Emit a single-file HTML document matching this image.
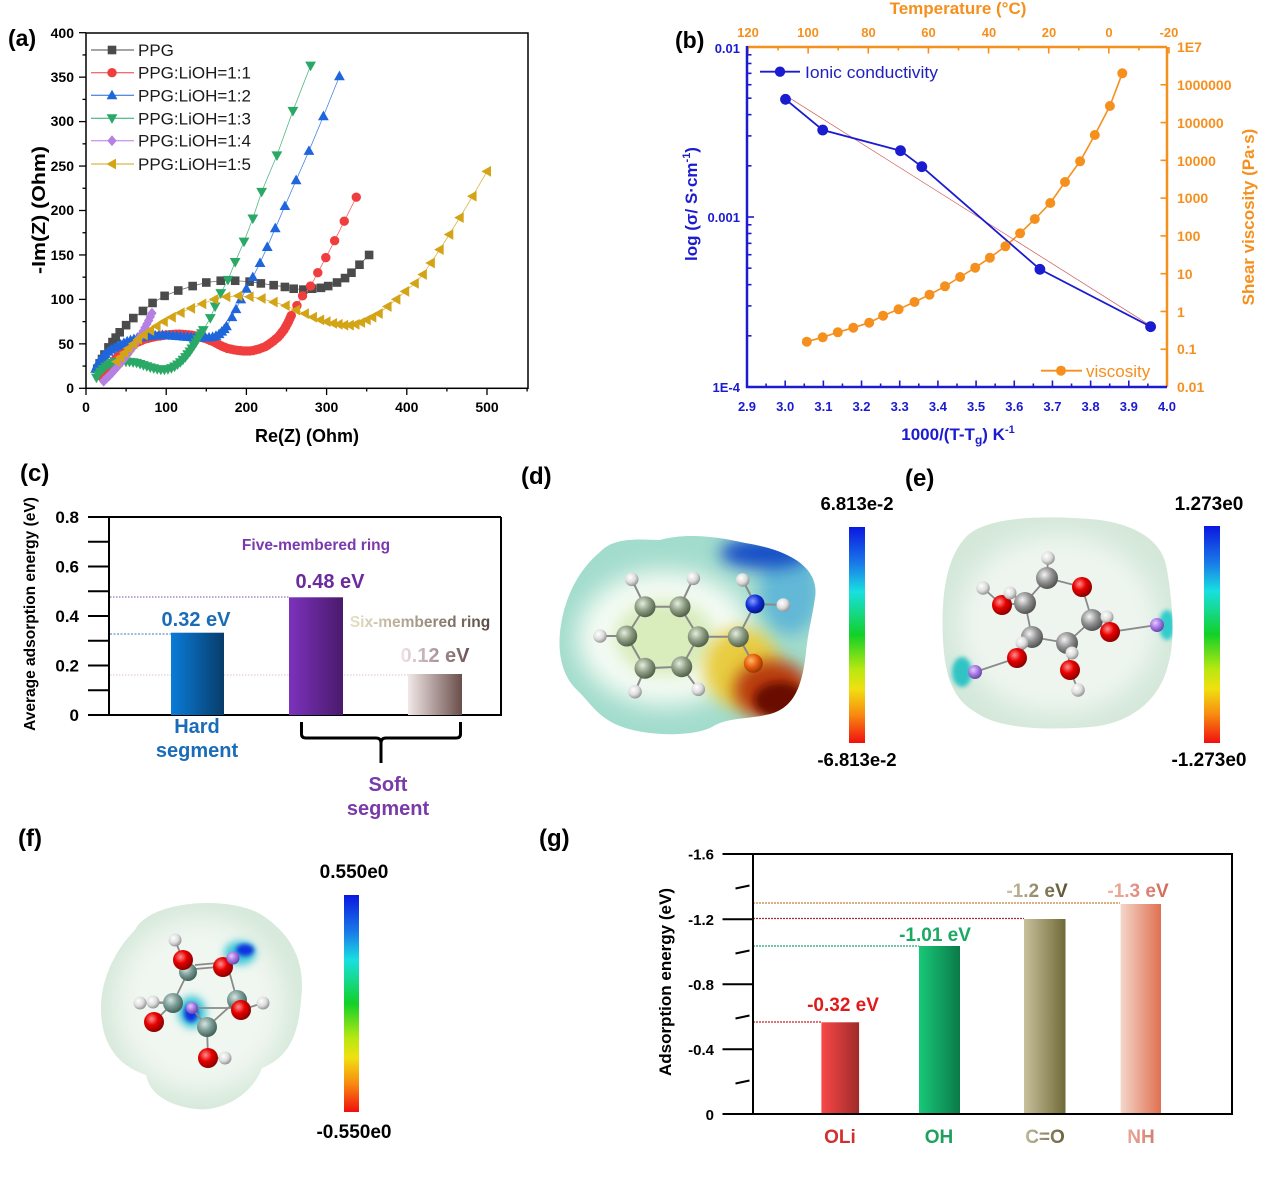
<!DOCTYPE html>
<html><head><meta charset="utf-8">
<style>
html,body{margin:0;padding:0;background:#fff;}
svg{display:block;font-family:"Liberation Sans",Arial,sans-serif;}
</style></head><body>
<svg id="s" width="1268" height="1181" viewBox="0 0 1268 1181" xmlns="http://www.w3.org/2000/svg">
<defs>
<linearGradient id="cbar" x1="0" y1="0" x2="0" y2="1">
<stop offset="0" stop-color="#0a18e0"/><stop offset="0.17" stop-color="#1a7ae8"/><stop offset="0.3" stop-color="#18e0e0"/><stop offset="0.5" stop-color="#12d028"/><stop offset="0.66" stop-color="#b8e810"/><stop offset="0.75" stop-color="#f0e010"/><stop offset="0.87" stop-color="#f88a10"/><stop offset="1" stop-color="#f01010"/>
</linearGradient>
<linearGradient id="gBlue" x1="0" x2="1"><stop offset="0" stop-color="#0a7cd8"/><stop offset="1" stop-color="#083c6a"/></linearGradient>
<linearGradient id="gPur" x1="0" x2="1"><stop offset="0" stop-color="#7c32bc"/><stop offset="1" stop-color="#4a1a6c"/></linearGradient>
<linearGradient id="gBrn" x1="0" x2="1"><stop offset="0" stop-color="#f2e8e8"/><stop offset="1" stop-color="#6a4e4a"/></linearGradient>
<linearGradient id="tSix" x1="0" x2="1"><stop offset="0" stop-color="#e8e2c4"/><stop offset="1" stop-color="#5a4a42"/></linearGradient>
<linearGradient id="t012" x1="0" x2="1"><stop offset="0" stop-color="#f2e4ea"/><stop offset="1" stop-color="#6a5052"/></linearGradient>
<linearGradient id="gRed" x1="0" x2="1"><stop offset="0" stop-color="#f84848"/><stop offset="1" stop-color="#a02a2a"/></linearGradient>
<linearGradient id="gGrn" x1="0" x2="1"><stop offset="0" stop-color="#18c878"/><stop offset="1" stop-color="#0a7a48"/></linearGradient>
<linearGradient id="gOlv" x1="0" x2="1"><stop offset="0" stop-color="#c8c09c"/><stop offset="1" stop-color="#706a38"/></linearGradient>
<linearGradient id="gSal" x1="0" x2="1"><stop offset="0" stop-color="#f4d6ca"/><stop offset="1" stop-color="#e07050"/></linearGradient>
<linearGradient id="t12" x1="0" x2="1"><stop offset="0" stop-color="#ccc4a2"/><stop offset="1" stop-color="#5a5030"/></linearGradient>
<linearGradient id="t13" x1="0" x2="1"><stop offset="0" stop-color="#f0b4a4"/><stop offset="1" stop-color="#d06858"/></linearGradient>
<linearGradient id="tCO" x1="0" x2="1"><stop offset="0" stop-color="#c0b898"/><stop offset="1" stop-color="#68603a"/></linearGradient>
<linearGradient id="tNH" x1="0" x2="1"><stop offset="0" stop-color="#eaa898"/><stop offset="1" stop-color="#d08070"/></linearGradient>
<radialGradient id="aC" cx="0.38" cy="0.35" r="0.7"><stop offset="0" stop-color="#e6eede"/><stop offset="0.5" stop-color="#8e9e84"/><stop offset="1" stop-color="#4a5842"/></radialGradient>
<radialGradient id="aH" cx="0.38" cy="0.35" r="0.7"><stop offset="0" stop-color="#ffffff"/><stop offset="0.55" stop-color="#dcdcdc"/><stop offset="1" stop-color="#8a8a8a"/></radialGradient>
<radialGradient id="aN" cx="0.38" cy="0.35" r="0.7"><stop offset="0" stop-color="#8c9cff"/><stop offset="0.5" stop-color="#1232d8"/><stop offset="1" stop-color="#021078"/></radialGradient>
<radialGradient id="aO" cx="0.38" cy="0.35" r="0.7"><stop offset="0" stop-color="#ffb868"/><stop offset="0.5" stop-color="#e86010"/><stop offset="1" stop-color="#903000"/></radialGradient>
<radialGradient id="aR" cx="0.38" cy="0.35" r="0.7"><stop offset="0" stop-color="#ff9090"/><stop offset="0.45" stop-color="#e80000"/><stop offset="1" stop-color="#800000"/></radialGradient>
<radialGradient id="aG" cx="0.38" cy="0.35" r="0.7"><stop offset="0" stop-color="#f4f4f4"/><stop offset="0.5" stop-color="#929292"/><stop offset="1" stop-color="#4a4a4a"/></radialGradient>
<radialGradient id="aT" cx="0.38" cy="0.35" r="0.7"><stop offset="0" stop-color="#d6e6e2"/><stop offset="0.5" stop-color="#7a9a94"/><stop offset="1" stop-color="#3a5a54"/></radialGradient>
<radialGradient id="aL" cx="0.38" cy="0.35" r="0.7"><stop offset="0" stop-color="#e6ccff"/><stop offset="0.5" stop-color="#a678e2"/><stop offset="1" stop-color="#6040a0"/></radialGradient>
<filter id="b4" x="-50%" y="-50%" width="200%" height="200%"><feGaussianBlur stdDeviation="4"/></filter>
<filter id="b8" x="-50%" y="-50%" width="200%" height="200%"><feGaussianBlur stdDeviation="8"/></filter>
<filter id="b12" x="-50%" y="-50%" width="200%" height="200%"><feGaussianBlur stdDeviation="12"/></filter>
<filter id="b2" x="-50%" y="-50%" width="200%" height="200%"><feGaussianBlur stdDeviation="2"/></filter>
<clipPath id="clipD"><path d="M600,552 C615,536 640,540 660,540 C685,533 715,536 745,543 C790,550 820,568 815,598 C812,618 808,632 806,652 C802,690 792,708 770,714 C745,720 728,717 712,727 C690,738 640,736 615,724 C595,714 590,702 575,688 C558,670 558,642 561,625 C565,598 578,570 600,552 Z"/></clipPath>
<clipPath id="clipE"><path d="M965,538 C985,515 1050,516 1090,519 C1130,522 1163,538 1167,570 C1172,598 1176,640 1168,665 C1160,700 1130,724 1090,727 C1050,730 1000,730 975,712 C955,700 945,680 943,640 C941,600 945,560 965,538 Z"/></clipPath>
<clipPath id="clipF"><path d="M135,930 C150,900 230,895 262,915 C292,935 306,962 301,1000 C298,1040 286,1058 262,1068 C252,1095 222,1112 196,1109 C170,1106 150,1095 146,1075 C115,1065 100,1040 101,1005 C102,978 115,950 135,930 Z"/></clipPath>
</defs>

<!-- ================= (a) ================= -->
<text x="8" y="46" font-size="23" font-weight="bold">(a)</text>
<rect x="86" y="33" width="442" height="355.3" fill="none" stroke="#000" stroke-width="1.5"/>
<g id="aTicks" stroke="#000" stroke-width="1.3"></g>
<g font-size="14" font-weight="bold" text-anchor="end">
<text x="74" y="393">0</text><text x="74" y="349">50</text><text x="74" y="304">100</text><text x="74" y="260">150</text><text x="74" y="215">200</text><text x="74" y="171">250</text><text x="74" y="126">300</text><text x="74" y="82">350</text><text x="74" y="38">400</text>
</g>
<g font-size="14" font-weight="bold" text-anchor="middle">
<text x="86" y="412">0</text><text x="166.2" y="412">100</text><text x="246.4" y="412">200</text><text x="326.6" y="412">300</text><text x="406.8" y="412">400</text><text x="487" y="412">500</text>
</g>
<text x="307" y="442" font-size="18" font-weight="bold" text-anchor="middle">Re(Z) (Ohm)</text>
<text transform="translate(45,210) rotate(-90)" font-size="18" font-weight="bold" text-anchor="middle" textLength="128" lengthAdjust="spacingAndGlyphs">-Im(Z) (Ohm)</text>
<g id="aData"></g>
<g id="aLeg" font-size="17" fill="#1a1a1a">
<text x="138" y="56">PPG</text>
<text x="138" y="78.7">PPG:LiOH=1:1</text>
<text x="138" y="101.3">PPG:LiOH=1:2</text>
<text x="138" y="124.3">PPG:LiOH=1:3</text>
<text x="138" y="146.7">PPG:LiOH=1:4</text>
<text x="138" y="170">PPG:LiOH=1:5</text>
</g>

<!-- ================= (b) ================= -->
<text x="675" y="48" font-size="23" font-weight="bold">(b)</text>
<text x="958" y="14" font-size="17" font-weight="bold" fill="#f5901e" text-anchor="middle">Temperature (°C)</text>
<g font-size="13" font-weight="bold" fill="#f5901e" text-anchor="middle">
<text x="748" y="37">120</text><text x="808" y="37">100</text><text x="868.5" y="37">80</text><text x="928.5" y="37">60</text><text x="989" y="37">40</text><text x="1049" y="37">20</text><text x="1109" y="37">0</text><text x="1169" y="37">-20</text>
</g>
<g id="bTicks"></g>
<line x1="747" y1="47" x2="1167" y2="47" stroke="#f5901e" stroke-width="2.5"/>
<line x1="1167" y1="47" x2="1167" y2="387" stroke="#f5901e" stroke-width="2.5"/>
<line x1="747" y1="46" x2="747" y2="388" stroke="#1b1bd0" stroke-width="2.5"/>
<line x1="746" y1="387" x2="1167" y2="387" stroke="#1b1bd0" stroke-width="2.5"/>
<g font-size="14" font-weight="bold" fill="#f5901e">
<text x="1177" y="52">1E7</text><text x="1177" y="90">1000000</text><text x="1177" y="128">100000</text><text x="1177" y="166">10000</text><text x="1177" y="203">1000</text><text x="1177" y="241">100</text><text x="1177" y="279">10</text><text x="1177" y="317">1</text><text x="1177" y="354">0.1</text><text x="1177" y="392">0.01</text>
</g>
<g font-size="13" font-weight="bold" fill="#1b1bd0" text-anchor="end">
<text x="740" y="53">0.01</text><text x="740" y="222">0.001</text><text x="740" y="392">1E-4</text>
</g>
<g font-size="13" font-weight="bold" fill="#1b1bd0" text-anchor="middle">
<text x="747" y="411">2.9</text><text x="785.2" y="411">3.0</text><text x="823.4" y="411">3.1</text><text x="861.5" y="411">3.2</text><text x="899.7" y="411">3.3</text><text x="937.9" y="411">3.4</text><text x="976.1" y="411">3.5</text><text x="1014.3" y="411">3.6</text><text x="1052.4" y="411">3.7</text><text x="1090.6" y="411">3.8</text><text x="1128.8" y="411">3.9</text><text x="1167" y="411">4.0</text>
</g>
<text x="958" y="440" font-size="17" font-weight="bold" fill="#1b1bd0" text-anchor="middle">1000/(T-T<tspan font-size="12" dy="4">g</tspan><tspan dy="-4">) K</tspan><tspan font-size="11" dy="-7">-1</tspan></text>
<text transform="translate(697,204) rotate(-90)" font-size="17" font-weight="bold" fill="#1b1bd0" text-anchor="middle">log (σ/ S·cm<tspan font-size="11" dy="-7">-1</tspan><tspan dy="7">)</tspan></text>
<text transform="translate(1254,217) rotate(-90)" font-size="17" font-weight="bold" fill="#f5901e" text-anchor="middle">Shear viscosity (Pa·s)</text>
<g id="bData"></g>
<line x1="760" y1="71.7" x2="800" y2="71.7" stroke="#1b1bd0" stroke-width="1.8"/>
<circle cx="780" cy="71.7" r="5.2" fill="#1b1bd0"/>
<text x="805" y="78" font-size="17" fill="#2020c0" textLength="133" lengthAdjust="spacingAndGlyphs">Ionic conductivity</text>
<line x1="1041" y1="370.7" x2="1082" y2="370.7" stroke="#f5901e" stroke-width="1.8"/>
<circle cx="1061" cy="370.7" r="5" fill="#f5901e"/>
<text x="1086" y="377" font-size="17" fill="#f5901e">viscosity</text>

<!-- ================= (c) ================= -->
<text x="20" y="481" font-size="24" font-weight="bold">(c)</text>
<g stroke="#000" stroke-width="2" fill="none">
<line x1="88" y1="517" x2="501" y2="517"/>
<line x1="88" y1="715" x2="502" y2="715"/>
<line x1="109" y1="517" x2="109" y2="715"/>
<line x1="501" y1="517" x2="501" y2="715"/>
<line x1="88" y1="541.75" x2="109" y2="541.75"/>
<line x1="88" y1="566.5" x2="109" y2="566.5"/>
<line x1="88" y1="591.25" x2="109" y2="591.25"/>
<line x1="88" y1="616" x2="109" y2="616"/>
<line x1="88" y1="640.75" x2="109" y2="640.75"/>
<line x1="88" y1="665.5" x2="109" y2="665.5"/>
<line x1="88" y1="690.25" x2="109" y2="690.25"/>
</g>
<g font-size="17" font-weight="bold" text-anchor="end">
<text x="79" y="523">0.8</text><text x="79" y="572.5">0.6</text><text x="79" y="622">0.4</text><text x="79" y="671.5">0.2</text><text x="79" y="721">0</text>
</g>
<text transform="translate(35,614) rotate(-90)" font-size="15.5" font-weight="bold" text-anchor="middle">Average adsorption energy (eV)</text>
<line x1="110" y1="634" x2="171" y2="634" stroke="#3a7ac0" stroke-width="1" stroke-dasharray="2,1.5"/>
<line x1="110" y1="597" x2="289" y2="597" stroke="#7a50a6" stroke-width="1" stroke-dasharray="1.5,1.5"/>
<line x1="110" y1="675" x2="408" y2="675" stroke="#dcc6cc" stroke-width="1" stroke-dasharray="1.5,1.5"/>
<rect x="171" y="632.7" width="53" height="82.3" fill="url(#gBlue)"/>
<rect x="289" y="597.3" width="54" height="117.7" fill="url(#gPur)"/>
<rect x="408" y="674" width="54" height="41" fill="url(#gBrn)"/>
<text x="196" y="626" font-size="20" font-weight="bold" fill="#1a6cb8" text-anchor="middle">0.32 eV</text>
<text x="330" y="588" font-size="20" font-weight="bold" fill="#6a2c9c" text-anchor="middle">0.48 eV</text>
<text x="435" y="662" font-size="20" font-weight="bold" fill="url(#t012)" text-anchor="middle">0.12 eV</text>
<text x="316" y="550" font-size="15.5" font-weight="bold" fill="#7a3aae" text-anchor="middle">Five-membered ring</text>
<text x="420" y="627" font-size="15.5" font-weight="bold" fill="url(#tSix)" text-anchor="middle">Six-membered ring</text>
<g font-size="20" font-weight="bold" fill="#1a6cb8" text-anchor="middle"><text x="197" y="733">Hard</text><text x="197" y="757">segment</text></g>
<g font-size="20" font-weight="bold" fill="#7a3aaa" text-anchor="middle"><text x="388" y="791">Soft</text><text x="388" y="815">segment</text></g>
<path d="M301.5,722 V734 Q301.5,738 306,738 H376 Q381,738 381,743 V763 M381,743 Q381,738 386,738 H456 Q460.5,738 460.5,734 V722" fill="none" stroke="#000" stroke-width="3"/>

<!-- ================= (d) ================= -->
<text x="521" y="484" font-size="24" font-weight="bold">(d)</text>
<text x="857" y="510" font-size="18.5" font-weight="bold" text-anchor="middle">6.813e-2</text>
<text x="857" y="766" font-size="18.5" font-weight="bold" text-anchor="middle">-6.813e-2</text>
<rect x="849" y="527" width="16" height="216" fill="url(#cbar)"/>
<g clip-path="url(#clipD)">
<rect x="550" y="530" width="280" height="210" fill="#a2dccc"/>
<ellipse cx="665" cy="638" rx="88" ry="68" fill="#f4fbf4" filter="url(#b12)"/>
<ellipse cx="665" cy="638" rx="50" ry="38" fill="#d8ecbc" filter="url(#b8)"/>
<ellipse cx="790" cy="590" rx="30" ry="45" fill="#62b8d6" filter="url(#b8)"/>
<ellipse cx="765" cy="553" rx="45" ry="16" fill="#1850c8" filter="url(#b8)"/>
<ellipse cx="742" cy="668" rx="38" ry="40" fill="#e8cc40" filter="url(#b8)"/>
<ellipse cx="772" cy="690" rx="38" ry="30" fill="#b83a10" filter="url(#b8)"/>
<ellipse cx="780" cy="700" rx="26" ry="18" fill="#6a1006" filter="url(#b4)"/>
</g>
<g stroke="#8a8a8a" stroke-width="2" fill="none">
<path d="M645,606.7 L680,606.7 L698.3,636.7 L681.7,666.7 L645,668.3 L626.7,636 Z"/>
<path d="M645,606.7 L631.7,579.3 M680,606.7 L693.3,578.3 M626.7,636 L600,636 M645,668.3 L635,691.7 M681.7,666.7 L698.3,689.3 M698.3,636.7 L738.3,636.7 L755,604 L742.7,580 M755,604 L783.3,605 M738.3,636.7 L753.3,663.3"/>
</g>
<g>
<circle cx="631.7" cy="579.3" r="6.8" fill="url(#aH)"/><circle cx="693.3" cy="578.3" r="6.8" fill="url(#aH)"/><circle cx="600" cy="636" r="6.8" fill="url(#aH)"/><circle cx="635" cy="691.7" r="6.8" fill="url(#aH)"/><circle cx="698.3" cy="689.3" r="6.8" fill="url(#aH)"/><circle cx="742.7" cy="580" r="6.8" fill="url(#aH)"/><circle cx="783.3" cy="605" r="6.8" fill="url(#aH)"/>
<circle cx="645" cy="606.7" r="10.5" fill="url(#aC)"/><circle cx="680" cy="606.7" r="10.5" fill="url(#aC)"/><circle cx="626.7" cy="636" r="10.5" fill="url(#aC)"/><circle cx="698.3" cy="636.7" r="10.5" fill="url(#aC)"/><circle cx="645" cy="668.3" r="10.5" fill="url(#aC)"/><circle cx="681.7" cy="666.7" r="10.5" fill="url(#aC)"/><circle cx="738.3" cy="636.7" r="10.5" fill="url(#aC)"/>
<circle cx="755" cy="604" r="9.5" fill="url(#aN)"/><circle cx="753.3" cy="663.3" r="9.5" fill="url(#aO)"/>
</g>

<!-- ================= (e) ================= -->
<text x="905" y="486" font-size="24" font-weight="bold">(e)</text>
<text x="1209" y="510" font-size="19" font-weight="bold" text-anchor="middle">1.273e0</text>
<text x="1209" y="766" font-size="19" font-weight="bold" text-anchor="middle">-1.273e0</text>
<rect x="1204" y="526" width="16" height="217" fill="url(#cbar)"/>
<g clip-path="url(#clipE)">
<rect x="935" y="510" width="250" height="230" fill="#d4e8da"/>
<ellipse cx="1058" cy="624" rx="100" ry="90" fill="#eef5ef" filter="url(#b12)"/>
<ellipse cx="1167" cy="625" rx="8" ry="15" fill="#30cccc" filter="url(#b2)"/>
<ellipse cx="962" cy="672" rx="10" ry="15" fill="#30c4c4" filter="url(#b2)"/>
</g>
<g stroke="#8a8a8a" stroke-width="1.8" fill="none">
<path d="M1047,578 L1048,558 M1047,578 L1082,587 L1092,620 L1107,617 M1047,578 L1025,603 L1002,605 L983,588 M1025,603 L1010,593 M1092,620 L1110,632 L1157,625 M1092,620 L1067,643 L1072,653 M1067,643 L1070,670 L1078,690 M1067,643 L1032,637 L1025,603 M1032,637 L1022,643 M1032,637 L1017,658 L975,672"/>
</g>
<g>
<circle cx="1048" cy="558" r="6.8" fill="url(#aH)"/><circle cx="983" cy="588" r="6.8" fill="url(#aH)"/>
<circle cx="1047" cy="578" r="11" fill="url(#aG)"/><circle cx="1082" cy="587" r="10" fill="url(#aR)"/>
<circle cx="1002" cy="605" r="10" fill="url(#aR)"/><circle cx="1010" cy="593" r="6.5" fill="url(#aH)"/>
<circle cx="1025" cy="603" r="11" fill="url(#aG)"/>
<circle cx="1092" cy="620" r="11" fill="url(#aG)"/><circle cx="1107" cy="617" r="6.5" fill="url(#aH)"/>
<circle cx="1110" cy="632" r="10" fill="url(#aR)"/><circle cx="1157" cy="625" r="7" fill="url(#aL)"/>
<circle cx="1032" cy="637" r="11" fill="url(#aG)"/><circle cx="1022" cy="643" r="6.5" fill="url(#aH)"/>
<circle cx="1067" cy="643" r="11" fill="url(#aG)"/><circle cx="1072" cy="653" r="6.5" fill="url(#aH)"/>
<circle cx="1017" cy="658" r="10" fill="url(#aR)"/><circle cx="1070" cy="670" r="10" fill="url(#aR)"/>
<circle cx="1078" cy="690" r="6.8" fill="url(#aH)"/><circle cx="975" cy="672" r="7" fill="url(#aL)"/>
</g>

<!-- ================= (f) ================= -->
<text x="18" y="846" font-size="24" font-weight="bold">(f)</text>
<text x="354" y="878" font-size="19" font-weight="bold" text-anchor="middle">0.550e0</text>
<text x="354" y="1138" font-size="19" font-weight="bold" text-anchor="middle">-0.550e0</text>
<rect x="344" y="895" width="15" height="217" fill="url(#cbar)"/>
<g clip-path="url(#clipF)">
<rect x="95" y="890" width="215" height="225" fill="#d6e9db"/>
<ellipse cx="200" cy="1005" rx="85" ry="88" fill="#f0f6f0" filter="url(#b12)"/>
<ellipse cx="240" cy="953" rx="16" ry="12" fill="#40c8d8" filter="url(#b4)"/>
<ellipse cx="245" cy="950" rx="9" ry="6" fill="#1030e0" filter="url(#b2)"/>
<ellipse cx="192" cy="1012" rx="14" ry="16" fill="#40c8d8" filter="url(#b4)"/>
<ellipse cx="191" cy="1013" rx="7" ry="9" fill="#1030e0" filter="url(#b2)"/>
</g>
<g stroke="#8a8a8a" stroke-width="1.8" fill="none">
<path d="M183,960 L175,940 M188,972 L173,1003 L154,1022 M173,1003 L140,1003 M173,1003 L153,1002 M195,965 L218,963 M195,969 L218,967 M228,967 L237,1000 L241,1010 L263,1003 M237,1000 L207,1027 L192,1008 M207,1027 L208,1058 L225,1058 M192,1008 L233,1008"/>
</g>
<g>
<circle cx="175" cy="940" r="6.5" fill="url(#aH)"/>
<circle cx="188" cy="972" r="9" fill="url(#aT)"/>
<circle cx="183" cy="960" r="10" fill="url(#aR)"/>
<circle cx="223" cy="967" r="10" fill="url(#aR)"/>
<circle cx="233" cy="958" r="6.5" fill="url(#aL)"/>
<circle cx="140" cy="1003" r="6.5" fill="url(#aH)"/><circle cx="153" cy="1002" r="6.5" fill="url(#aH)"/>
<circle cx="173" cy="1003" r="10" fill="url(#aT)"/>
<circle cx="154" cy="1022" r="10" fill="url(#aR)"/>
<circle cx="192" cy="1008" r="6" fill="url(#aL)"/>
<circle cx="237" cy="1000" r="10" fill="url(#aT)"/>
<circle cx="263" cy="1003" r="6.5" fill="url(#aH)"/>
<circle cx="241" cy="1010" r="10" fill="url(#aR)"/>
<circle cx="207" cy="1027" r="10" fill="url(#aT)"/>
<circle cx="225" cy="1058" r="6.5" fill="url(#aH)"/>
<circle cx="208" cy="1058" r="10" fill="url(#aR)"/>
</g>

<!-- ================= (g) ================= -->
<text x="539" y="846" font-size="24" font-weight="bold">(g)</text>
<line x1="753" y1="1022" x2="821" y2="1022" stroke="#c42020" stroke-width="1.2" stroke-dasharray="2,1"/>
<line x1="753" y1="946" x2="919" y2="946" stroke="#20a070" stroke-width="1.2" stroke-dasharray="2,1"/>
<line x1="753" y1="918.5" x2="1024" y2="918.5" stroke="#a03030" stroke-width="1.2" stroke-dasharray="2,1"/>
<line x1="753" y1="903" x2="1120" y2="903" stroke="#c08040" stroke-width="1.2" stroke-dasharray="2,1"/>
<rect x="821.4" y="1022.3" width="37.7" height="91.7" fill="url(#gRed)"/>
<rect x="919" y="946" width="41" height="168" fill="url(#gGrn)"/>
<rect x="1024" y="919" width="41.5" height="195" fill="url(#gOlv)"/>
<rect x="1120.6" y="904" width="40.4" height="210" fill="url(#gSal)"/>
<g stroke="#000" stroke-width="2" fill="none">
<line x1="722.5" y1="854" x2="1232" y2="854"/>
<line x1="722.5" y1="1114" x2="1232" y2="1114"/>
<line x1="753" y1="854" x2="753" y2="1114"/>
<line x1="1232" y1="853" x2="1232" y2="1115"/>
<line x1="722.5" y1="919.3" x2="753" y2="919.3"/>
<line x1="722.5" y1="984.3" x2="753" y2="984.3"/>
<line x1="722.5" y1="1049.3" x2="753" y2="1049.3"/>
<line x1="735.5" y1="888.5" x2="749.5" y2="885.5"/>
<line x1="735.5" y1="953.5" x2="749.5" y2="950.5"/>
<line x1="735.5" y1="1018.5" x2="749.5" y2="1015.5"/>
<line x1="735.5" y1="1083.5" x2="749.5" y2="1080.5"/>
</g>
<g font-size="15" font-weight="bold" text-anchor="end">
<text x="714" y="859.5">-1.6</text><text x="714" y="924.8">-1.2</text><text x="714" y="989.8">-0.8</text><text x="714" y="1054.8">-0.4</text><text x="714" y="1119.8">0</text>
</g>
<text transform="translate(671,982) rotate(-90)" font-size="17" font-weight="bold" text-anchor="middle">Adsorption energy (eV)</text>
<text x="843" y="1011" font-size="19" font-weight="bold" fill="#e01a1a" text-anchor="middle">-0.32 eV</text>
<text x="935" y="941" font-size="19" font-weight="bold" fill="#1aa862" text-anchor="middle">-1.01 eV</text>
<text x="1037" y="897" font-size="19" font-weight="bold" fill="url(#t12)" text-anchor="middle">-1.2 eV</text>
<text x="1138" y="897" font-size="19" font-weight="bold" fill="url(#t13)" text-anchor="middle">-1.3 eV</text>
<text x="840" y="1143" font-size="19" font-weight="bold" fill="#d03030" text-anchor="middle">OLi</text>
<text x="939" y="1143" font-size="19" font-weight="bold" fill="#20a060" text-anchor="middle">OH</text>
<text x="1045" y="1143" font-size="19" font-weight="bold" fill="url(#tCO)" text-anchor="middle">C=O</text>
<text x="1141" y="1143" font-size="19" font-weight="bold" fill="url(#tNH)" text-anchor="middle">NH</text>
</svg>
<script>
(function(){
var NS="http://www.w3.org/2000/svg";
function el(tag,attrs,parent){var e=document.createElementNS(NS,tag);for(var k in attrs)e.setAttribute(k,attrs[k]);parent.appendChild(e);return e;}
var at=document.getElementById('aTicks');
for(var v=0;v<=400;v+=25){var y=388.3-v*0.889;el('line',{x1:(v%50==0?79:82.5),y1:y,x2:86,y2:y},at);}
for(var v=0;v<=550;v+=50){var x=86+v*0.802;el('line',{x1:x,y1:388.3,x2:x,y2:(v%100==0?395:391.5)},at);}
var ax=function(v){return 86+v*0.802;}, ay=function(v){return 388.3-v*0.889;};
function marker(g,shape,x,y,col){
 switch(shape){
 case 'sq':el('rect',{x:x-4.3,y:y-4.3,width:8.6,height:8.6,fill:col},g);break;
 case 'ci':el('circle',{cx:x,cy:y,r:4.7,fill:col},g);break;
 case 'tu':el('polygon',{points:x+','+(y-5.6)+' '+(x+5.4)+','+(y+4)+' '+(x-5.4)+','+(y+4),fill:col},g);break;
 case 'td':el('polygon',{points:x+','+(y+5.6)+' '+(x+5.4)+','+(y-4)+' '+(x-5.4)+','+(y-4),fill:col},g);break;
 case 'di':el('polygon',{points:x+','+(y-5.4)+' '+(x+4.7)+','+y+' '+x+','+(y+5.4)+' '+(x-4.7)+','+y,fill:col},g);break;
 case 'tl':el('polygon',{points:(x-5.6)+','+y+' '+(x+4)+','+(y-5.4)+' '+(x+4)+','+(y+5.4),fill:col},g);break;
 }
}
function resample(pts,step){
 var out=[pts[0]];var carry=0;
 for(var i=1;i<pts.length;i++){
  var a=pts[i-1],b=pts[i];var dx=b[0]-a[0],dy=b[1]-a[1];var L=Math.sqrt(dx*dx+dy*dy);
  var t=step-carry;
  while(t<=L){out.push([a[0]+dx*t/L,a[1]+dy*t/L]);t+=step;}
  carry=L-(t-step);
 }
 return out;
}
var series=[
 {s:'sq',c:'#4b4b4b',dense:[],tail:[[14,22],[17,28],[20,33],[23,38],[28,46],[33,52],[37,57],[42,63],[50,71],[59,79],[71,87],[83,96],[98,104],[115,110],[133,115],[150,119],[168,121],[186,121],[204,120],[218,118],[234,116],[248,114],[259,112],[271,111],[282,112],[293,113],[302,115],[313,119],[323,124],[331,130],[341,139],[353,150]]},
 {s:'ci',c:'#f03e3e',step:3.2,dense:[[20,13],[25,20],[32,28],[40,36],[50,44],[60,50],[72,55],[85,58],[100,60],[115,61],[130,60],[142,58],[152,55],[160,52],[168,48],[176,45],[186,43],[196,42],[206,42],[215,44],[224,47],[232,52],[240,58],[247,66],[252,74],[256,82]],tail:[[263,93],[270,104],[280,115],[289,130],[299,147],[310,166],[322,188],[337,215]]},
 {s:'tu',c:'#1f66dd',step:3.6,dense:[[12,22],[16,30],[22,37],[30,43],[40,48],[52,53],[65,57],[80,59],[95,60],[110,59],[125,58],[140,57],[152,57],[160,58],[166,61],[172,66],[177,72]],tail:[[182,80],[187,89],[193,100],[200,112],[208,125],[217,141],[226,159],[236,180],[248,205],[262,234],[278,267],[296,306],[316,351]]},
 {s:'td',c:'#2aa866',step:3.6,dense:[[13,12],[18,19],[25,25],[33,29],[42,30],[52,30],[62,29],[72,26],[82,23],[92,21],[100,21],[108,23],[116,28],[123,34],[130,42],[136,50],[142,59],[148,68]],tail:[[155,79],[161,92],[168,107],[177,122],[186,142],[197,165],[208,191],[219,221],[238,262],[258,312],[280,363]]},
 {s:'di',c:'#b57fe3',step:4,dense:[[22,8],[30,15],[40,25],[50,36],[60,48],[70,62],[78,76],[84,88]],tail:[]},
 {s:'tl',c:'#d4a417',dense:[],tail:[[38,30],[43,35],[48,40],[53,45],[59,50],[65,55],[72,60],[80,65],[88,70],[97,75],[107,80],[118,85],[131,90],[145,95],[160,100],[175,103],[190,104],[204,103],[219,101],[234,97],[249,93],[262,88],[273,84],[283,80],[292,77],[300,75],[308,73],[315,72],[322,71],[329,71],[336,72],[343,74],[350,77],[357,80],[365,84],[376,92],[387,100],[398,109],[410,118],[420,128],[430,141],[441,156],[453,173],[466,192],[482,216],[500,244]]}
];
var ad=document.getElementById('aData');
series.forEach(function(S){
 var all=S.dense.concat(S.tail);
 var px=all.map(function(p){return [ax(p[0]),ay(p[1])];});
 el('polyline',{points:px.map(function(p){return p[0]+','+p[1];}).join(' '),fill:'none',stroke:S.c,'stroke-width':0.8,'stroke-opacity':0.8},ad);
 var mk=[];
 if(S.dense.length){mk=resample(S.dense.map(function(p){return [ax(p[0]),ay(p[1])];}),S.step);}
 S.tail.forEach(function(p){mk.push([ax(p[0]),ay(p[1])]);});
 mk.forEach(function(p){marker(ad,S.s,p[0],p[1],S.c);});
});
var lg=document.getElementById('aLeg');
var ly=[50,72.7,95.3,118.3,140.7,164];
series.forEach(function(S,i){
 el('line',{x1:91,y1:ly[i],x2:134,y2:ly[i],stroke:S.c,'stroke-width':1},lg);
 marker(lg,S.s,112,ly[i],S.c);
});
var bt=document.getElementById('bTicks');
var O='#f5901e',B='#1b1bd0';
for(var T=120;T>=-20;T-=10){var x=748+(120-T)*3.007;el('line',{x1:x,y1:47,x2:x,y2:(T%20==0?53.5:50.5),stroke:O,'stroke-width':1.6},bt);}
for(var k=0;k<=9;k++){var y=47+k*37.78;el('line',{x1:1160.5,y1:y,x2:1167,y2:y,stroke:O,'stroke-width':1.6},bt);}
[217,387].forEach(function(yb){for(var m=2;m<=9;m++){var y=yb-Math.log10(m)*170;el('line',{x1:747,y1:y,x2:751.5,y2:y,stroke:B,'stroke-width':1.6},bt);}});
[47,217,387].forEach(function(y){el('line',{x1:747,y1:y,x2:754,y2:y,stroke:B,'stroke-width':1.6},bt);});
for(var i=0;i<=22;i++){var x=747+i*19.09;el('line',{x1:x,y1:387,x2:x,y2:(i%2==0?380.5:383.5),stroke:B,'stroke-width':1.6},bt);}
var bd=document.getElementById('bData');
var vx=[806.8,822.7,837.8,853.3,869.2,883.1,898.6,914.5,929.5,945.0,960.1,975.2,989.9,1005.4,1020.1,1034.8,1050.3,1065.0,1080.1,1094.8,1109.9,1122.3];
var vy=[341.7,337.3,332.3,327.7,322.7,315.7,309.3,302,294.7,286.3,277,267.7,257.7,246.3,233.3,219,203,182,161.3,135,106,73.3];
el('polyline',{points:vx.map(function(x,i){return x+','+vy[i];}).join(' '),fill:'none',stroke:O,'stroke-width':1.6},bd);
el('line',{x1:787.5,y1:96.7,x2:1149.4,y2:325,stroke:'#d05a5a','stroke-width':0.7},bd);
var cx=[785.5,822.7,900.5,921.8,1039.9,1150.6],cy=[99.3,130,150.7,166.7,269.3,326.7];
el('polyline',{points:cx.map(function(x,i){return x+','+cy[i];}).join(' '),fill:'none',stroke:B,'stroke-width':1.8},bd);
vx.forEach(function(x,i){el('circle',{cx:x,cy:vy[i],r:5,fill:O},bd);});
cx.forEach(function(x,i){el('circle',{cx:x,cy:cy[i],r:5.4,fill:B},bd);});
})();
</script>
</body></html>
